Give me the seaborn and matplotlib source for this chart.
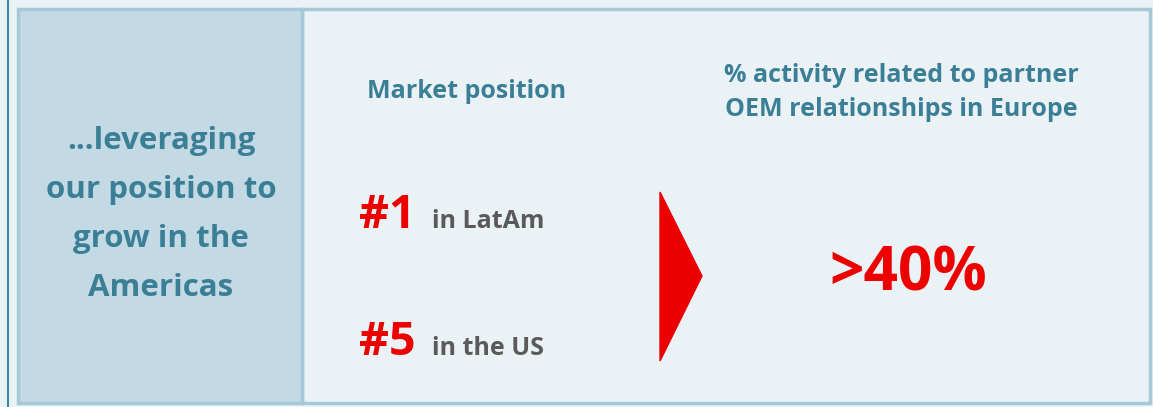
import matplotlib
matplotlib.use("Agg")
import matplotlib.pyplot as plt
import seaborn as sns
from matplotlib.patches import Rectangle, Polygon

# text content
left_lines = ["...leveraging", "our position to", "grow in the", "Americas"]
mid_title = "Market position"
ranks = ["#1", "#5"]
rank_labels = ["in LatAm", "in the US"]
right_title = ["% activity related to partner", "OEM relationships in Europe"]
right_value = ">40%"

teal = "#3b7f96"
red = "#ec0000"
grey = "#5a5a5a"
bg = "#eaf2f6"
panel = "#c3dae4"
edge = "#a6c9d7"

sns.set_theme(style="white")
plt.rcParams["font.family"] = ["Open Sans", "DejaVu Sans"]

fig = plt.figure(figsize=(11.53, 4.07), dpi=100)
fig.patch.set_facecolor(bg)
ax = fig.add_axes([0, 0, 1, 1])
ax.set_xlim(0, 1153)
ax.set_ylim(407, 0)
ax.axis("off")

# left accent line
ax.plot([7.5, 7.5], [0, 407], color="#3f8aa3", lw=1.5)

# panels
ax.add_patch(Rectangle((302, 9), 848, 394, facecolor=bg, edgecolor=edge, lw=2.5))
ax.add_patch(Rectangle((18, 9), 284, 394, facecolor=panel, edgecolor=edge, lw=2.5))

# left text
for i, line in enumerate(left_lines):
    ax.text(161, 141 + i * 49, line, ha="center", va="center", fontsize=22.5,
            fontweight="bold", color=teal)

# middle
ax.text(467, 91, mid_title, ha="center", va="center", fontsize=18,
        fontweight="bold", color=teal)
for i, (r, lab) in enumerate(zip(ranks, rank_labels)):
    y = 228 + i * 127
    ax.text(359, y, r, ha="left", va="baseline", fontsize=33.5,
            fontweight="bold", color=red)
    ax.text(432, y, lab, ha="left", va="baseline", fontsize=18,
            fontweight="bold", color=grey)

# arrow
ax.add_patch(Polygon([[660, 192], [702, 276], [660, 361]], closed=True,
                     facecolor=red, edgecolor=red))

# right
for i, line in enumerate(right_title):
    ax.text(901, 75 + i * 34, line, ha="center", va="center", fontsize=18,
            fontweight="bold", color=teal)
ax.text(908, 275, right_value, ha="center", va="center", fontsize=43.5,
        fontweight="bold", color=red)

fig.savefig("out.png", dpi=100, facecolor=bg)
